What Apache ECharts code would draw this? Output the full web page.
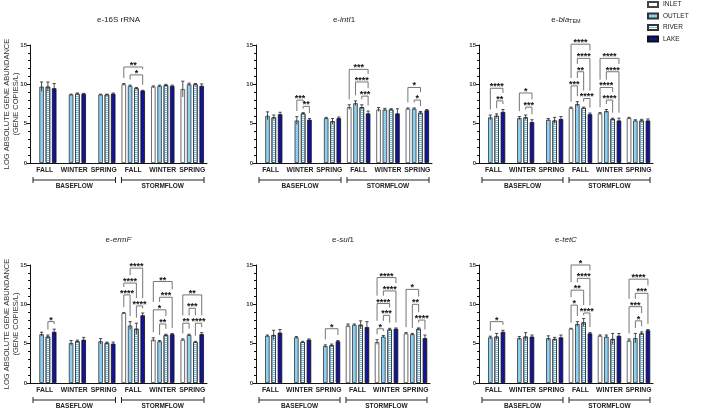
<!DOCTYPE html>
<html><head><meta charset="utf-8">
<script src="https://cdn.jsdelivr.net/npm/echarts@6/dist/echarts.min.js"></script>
<style>html,body{margin:0;padding:0;background:#fff}#c{width:709px;height:410px}</style>
</head><body><div id="c"></div>
<script>
// ---------- DATA ----------
const categories = ['FALL','WINTER','SPRING','FALL','WINTER','SPRING'];
const sites = ['INLET','OUTLET','RIVER','LAKE'];
const flowGroups = [[0,2,'BASEFLOW'],[3,5,'STORMFLOW']];
const yTicks = [0,5,10,15];
const yAxisTitle = 'LOG ABSOLUTE GENE ABUNDANCE\n(GENE COPIES/L)';

// rows: INLET, OUTLET, RIVER, LAKE ; cols: categories
const rRNA16S = [
  [null,null,null,10.0,9.7,9.4],
  [9.7,8.7,8.7,9.8,9.8,10.0],
  [9.7,8.8,8.7,9.5,9.9,10.0],
  [9.5,8.8,8.8,9.2,9.8,9.8]];
const rRNA16S_err = [
  [0,0,0,0.1,0.1,1.0],
  [0.6,0.05,0.05,0.1,0.1,0.15],
  [0.6,0.1,0.05,0.1,0.1,0.1],
  [0.6,0.05,0.1,0.05,0.1,0.25]];
// [category, fromSite, toSite, height, label]
const rRNA16S_sig = [[3,0,3,12.2,'**'],[3,1,3,11.2,'*']];

const intI1 = [
  [null,null,null,7.1,6.8,6.9],
  [6.0,5.4,5.7,7.6,6.8,6.9],
  [5.8,6.3,5.3,7.1,6.8,6.4],
  [6.2,5.5,5.7,6.3,6.3,6.7]];
const intI1_err = [
  [0,0,0,0.3,0.25,0.1],
  [0.5,0.5,0.1,0.3,0.15,0.1],
  [0.3,0.1,0.35,0.3,0.1,0.15],
  [0.25,0.15,0.15,0.3,0.6,0.1]];
const intI1_sig = [[1,1,2,8.0,'***'],[1,2,3,7.2,'**'],[3,0,3,11.9,'***'],[3,1,3,10.3,'****'],[3,2,3,8.5,'***'],[5,0,2,9.6,'*'],[5,1,2,8.0,'*']];

const blaTEM = [
  [null,null,null,7.0,6.3,5.7],
  [5.8,5.7,5.5,7.5,6.6,5.4],
  [6.0,5.8,5.4,7.0,5.6,5.4],
  [6.5,5.2,5.6,6.2,5.4,5.4]];
const blaTEM_err = [
  [0,0,0,0.1,0.1,0.1],
  [0.3,0.2,0.15,0.3,0.2,0.1],
  [0.25,0.3,0.4,0.1,0.1,0.15],
  [0.3,0.3,0.3,0.15,0.3,0.2]];
const blaTEM_sig = [[0,1,3,9.5,'****'],[0,2,3,7.9,'**'],[1,1,3,8.9,'*'],[1,2,3,7.1,'***'],
  [3,0,3,15.1,'****'],[3,1,3,13.3,'****'],[3,1,2,11.6,'**'],[3,0,1,9.8,'***'],[3,2,3,8.2,'****'],
  [4,0,3,13.3,'****'],[4,1,3,11.6,'****'],[4,0,2,9.6,'****'],[4,1,2,8.0,'****']];

const ermF = [
  [null,null,null,8.9,5.5,5.5],
  [6.2,5.1,5.3,7.3,5.3,6.1],
  [5.9,5.3,5.1,6.9,6.1,5.2],
  [6.5,5.5,5.0,8.6,6.2,6.2]];
const ermF_err = [
  [0,0,0,0.05,0.25,0.1],
  [0.25,0.3,0.35,0.5,0.1,0.1],
  [0.2,0.15,0.1,0.7,0.1,0.1],
  [0.35,0.3,0.2,0.3,0.1,0.2]];
const ermF_sig = [[0,2,3,7.8,'*'],[3,1,3,14.6,'****'],[3,0,2,12.7,'****'],[3,0,1,11.2,'****'],[3,2,3,9.8,'****'],
  [4,0,3,12.9,'**'],[4,1,3,10.9,'***'],[4,0,2,9.3,'*'],[4,1,2,7.5,'**'],
  [5,0,3,11.2,'**'],[5,1,2,9.5,'***'],[5,0,1,7.6,'**'],[5,2,3,7.6,'****']];

const sul1 = [
  [null,null,null,7.3,5.2,6.3],
  [6.0,5.8,4.7,7.4,5.9,6.2],
  [6.1,5.2,4.8,7.4,6.8,6.9],
  [6.4,5.5,5.3,7.1,6.9,5.7]];
const sul1_err = [
  [0,0,0,0.2,0.3,0.1],
  [0.1,0.1,0.15,0.1,0.15,0.1],
  [0.6,0.1,0.15,0.5,0.15,0.1],
  [0.4,0.1,0.1,0.7,0.1,0.4]];
const sul1_sig = [[2,1,3,6.9,'*'],[4,0,3,13.4,'****'],[4,1,3,11.7,'****'],[4,0,2,10.1,'****'],[4,1,2,8.6,'***'],[4,0,1,6.9,'*'],
  [5,0,2,11.9,'*'],[5,1,2,10.0,'**'],[5,2,3,8.0,'****']];

const tetC = [
  [null,null,null,6.9,6.0,5.4],
  [5.8,5.7,5.7,7.5,5.9,5.7],
  [5.9,5.9,5.6,7.7,5.6,6.3],
  [6.5,5.9,5.8,6.3,6.0,6.7]];
const tetC_err = [
  [0,0,0,0.05,0.1,0.2],
  [0.15,0.2,0.3,0.3,0.2,0.6],
  [0.4,0.5,0.2,0.5,0.7,0.2],
  [0.2,0.2,0.3,0.1,0.3,0.1]];
const tetC_sig = [[0,1,3,7.8,'*'],[3,0,3,15.0,'*'],[3,1,3,13.3,'****'],[3,0,2,11.8,'**'],[3,0,1,9.9,'*'],[3,2,3,8.9,'****'],
  [5,0,3,13.2,'****'],[5,1,3,11.4,'***'],[5,0,2,9.7,'***'],[5,1,2,7.9,'*']];

const panelTitles = ['{n|e-16S rRNA}','{n|e-}{i|intI}{n|1}','{n|e-}{i|bla}{s|TEM}','{n|e-}{i|ermF}','{n|e-}{i|sul}{n|1}','{n|e-}{i|tetC}'];

// ---------- STYLE / LAYOUT ----------
const FONT = 'Liberation Sans, Arial, Helvetica, sans-serif';
const layout = [
  {left:30, top:45, width:177, height:118},
  {left:256, top:45, width:176, height:118},
  {left:479, top:45, width:174, height:118},
  {left:30, top:265, width:177, height:118},
  {left:256, top:265, width:174, height:118},
  {left:479, top:265, width:174, height:118}];
const BAR_W = 4.5, GAP_RATIO = 0.4, SLOT = BAR_W*(1+GAP_RATIO);
const siteStyles = [
  {color:'#ffffff', borderColor:'#444', borderWidth:0.8},
  {color:'#8dd0f2', borderColor:'#333', borderWidth:0.8},
  {color:'#ffffff', borderColor:'#333', borderWidth:0.8,
    decal:{symbol:'rect', symbolSize:1, color:'#6cbde8', dashArrayX:[1,0], dashArrayY:[1,1], rotation:0}},
  {color:'#13139c', borderColor:'#111', borderWidth:0.8}];

const panels = [
  [rRNA16S, rRNA16S_err, rRNA16S_sig],
  [intI1, intI1_err, intI1_sig],
  [blaTEM, blaTEM_err, blaTEM_sig],
  [ermF, ermF_err, ermF_sig],
  [sul1, sul1_err, sul1_sig],
  [tetC, tetC_err, tetC_sig]];

const grids=[], xAxes=[], yAxes=[], series=[], titles=[];
panels.forEach(([vals, errs, sigs], p) => {
  const L = layout[p];
  grids.push(Object.assign({outerBoundsMode:'none', containLabel:false}, L));
  titles.push({
    text: panelTitles[p], left: L.left + L.width/2, top: p < 3 ? 14 : 234, textAlign:'center', padding:0,
    textStyle:{fontFamily:FONT, fontSize:8, fontWeight:'normal', color:'#222',
      rich:{
        n:{fontFamily:FONT, fontSize:8, color:'#222', lineHeight:10, verticalAlign:'bottom'},
        i:{fontFamily:FONT, fontSize:8, fontStyle:'italic', color:'#222', lineHeight:10, verticalAlign:'bottom'},
        s:{fontFamily:FONT, fontSize:5.5, color:'#222', lineHeight:4, verticalAlign:'bottom'}
      }}
  });
  xAxes.push({
    type:'category', gridIndex:p, data:categories,
    axisLine:{lineStyle:{color:'#111', width:1}}, axisTick:{show:false},
    axisLabel:{interval:0, margin:4, fontFamily:FONT, fontSize:6.8, fontWeight:'bold', color:'#222'}
  });
  yAxes.push({
    type:'value', gridIndex:p, min:yTicks[0], max:yTicks[yTicks.length-1], interval:yTicks[1]-yTicks[0],
    splitLine:{show:false},
    axisLine:{show:true, lineStyle:{color:'#111', width:1}},
    axisTick:{show:true, length:3, lineStyle:{color:'#111'}},
    minorTick:{show:true, splitNumber:5, length:2, lineStyle:{color:'#111'}},
    axisLabel:{margin:3, fontFamily:FONT, fontSize:6, fontWeight:'bold', color:'#333'},
    name:(p===0||p===3)?yAxisTitle:'', nameLocation:'middle', nameGap:10, nameRotate:90, nameMoveOverlap:false,
    nameTextStyle:{fontFamily:FONT, fontSize:7.5, color:'#333', lineHeight:8.5}
  });
  sites.forEach((s, k) => {
    series.push({
      type:'bar', name:s, xAxisIndex:p, yAxisIndex:p, data:vals[k],
      barWidth:BAR_W, barGap:(GAP_RATIO*100)+'%', itemStyle:siteStyles[k], silent:true, z:2
    });
  });
  // error bars
  const eData=[];
  for (let k=0;k<4;k++) for (let c=0;c<categories.length;c++)
    if (vals[k][c]!=null) eData.push([c, vals[k][c], errs[k][c], k]);
  series.push({
    type:'custom', xAxisIndex:p, yAxisIndex:p, silent:true, z:5, data:eData, encode:{x:0, y:1},
    renderItem(params, api){
      const c=api.value(0), v=api.value(1), e=api.value(2), k=api.value(3);
      const x = api.coord([c, v])[0] + (k-1.5)*SLOT;
      const yT = api.coord([c, v+e])[1], yB = api.coord([c, Math.max(0,v-e)])[1];
      const st = {stroke:'#222', lineWidth:0.8};
      return {type:'group', children:[
        {type:'line', shape:{x1:x,y1:yT,x2:x,y2:yB}, style:st},
        {type:'line', shape:{x1:x-1.6,y1:yT,x2:x+1.6,y2:yT}, style:st}]};
    }
  });
  // significance brackets: legs end above the next bracket below (or above the bar)
  const bData = sigs.map(b => {
    const [c, f, t, h] = b;
    const legEnd = k => {
      let lo = vals[k][c] + errs[k][c] + 0.7;
      sigs.forEach(o => { if (o!==b && o[0]===c && o[3]<h && o[1]<=k && o[2]>=k) lo = Math.max(lo, o[3]+1.0); });
      return Math.min(lo, h-0.3);
    };
    return [c, h, f, t, legEnd(f), legEnd(t)];
  });
  series.push({
    type:'custom', xAxisIndex:p, yAxisIndex:p, silent:true, z:6, clip:false, data:bData, encode:{x:0, y:1},
    renderItem(params, api){
      const c=api.value(0), h=api.value(1), f=api.value(2), t=api.value(3), lf=api.value(4), lt=api.value(5);
      const cx = api.coord([c, h])[0];
      const x1 = cx + (f-1.5)*SLOT, x2 = cx + (t-1.5)*SLOT;
      const y = api.coord([c, h])[1], y1 = api.coord([c, lf])[1], y2 = api.coord([c, lt])[1];
      return {type:'group', children:[
        {type:'polyline', shape:{points:[[x1,y1],[x1,y],[x2,y],[x2,y2]]}, style:{stroke:'#666', lineWidth:0.9, fill:null}},
        {type:'text', x:(x1+x2)/2, y:y+3, style:{text:sigs[params.dataIndex][4], align:'center', verticalAlign:'bottom',
          fontFamily:FONT, fontSize:9, fontWeight:'bold', fill:'#111'}}]};
    }
  });
  // flow group brackets under the x axis
  series.push({
    type:'custom', xAxisIndex:p, yAxisIndex:p, silent:true, z:6, clip:false,
    data: flowGroups.map((g,i)=>[g[0], 0, g[1], i]), encode:{x:0, y:1},
    renderItem(params, api){
      const c0=api.value(0), c1=api.value(2), i=api.value(3);
      const bw = api.size([1,0])[0];
      const x0 = api.coord([c0,0])[0] - bw/2 + 3, x1 = api.coord([c1,0])[0] + bw/2 - 3;
      const y = api.coord([c0,0])[1] + 17;
      const st = {stroke:'#222', lineWidth:1};
      return {type:'group', children:[
        {type:'line', shape:{x1:x0,y1:y,x2:x1,y2:y}, style:st},
        {type:'line', shape:{x1:x0,y1:y-3,x2:x0,y2:y+3}, style:st},
        {type:'line', shape:{x1:x1,y1:y-3,x2:x1,y2:y+3}, style:st},
        {type:'text', x:(x0+x1)/2, y:y+3, style:{text:flowGroups[i][2], align:'center', verticalAlign:'top',
          fontFamily:FONT, fontSize:6.5, fontWeight:'bold', fill:'#222'}}]};
    }
  });
});

const chart = echarts.init(document.getElementById('c'), null, {renderer:'canvas'});
chart.setOption({
  animation:false,
  backgroundColor:'#ffffff',
  title: titles,
  legend:{data:sites, orient:'vertical', left:647, top:1, itemWidth:10, itemHeight:5, itemGap:4.5, padding:0,
    icon:'rect', textStyle:{fontFamily:FONT, fontSize:6.5, color:'#222'}},
  grid: grids, xAxis: xAxes, yAxis: yAxes, series: series
});
</script></body></html>
